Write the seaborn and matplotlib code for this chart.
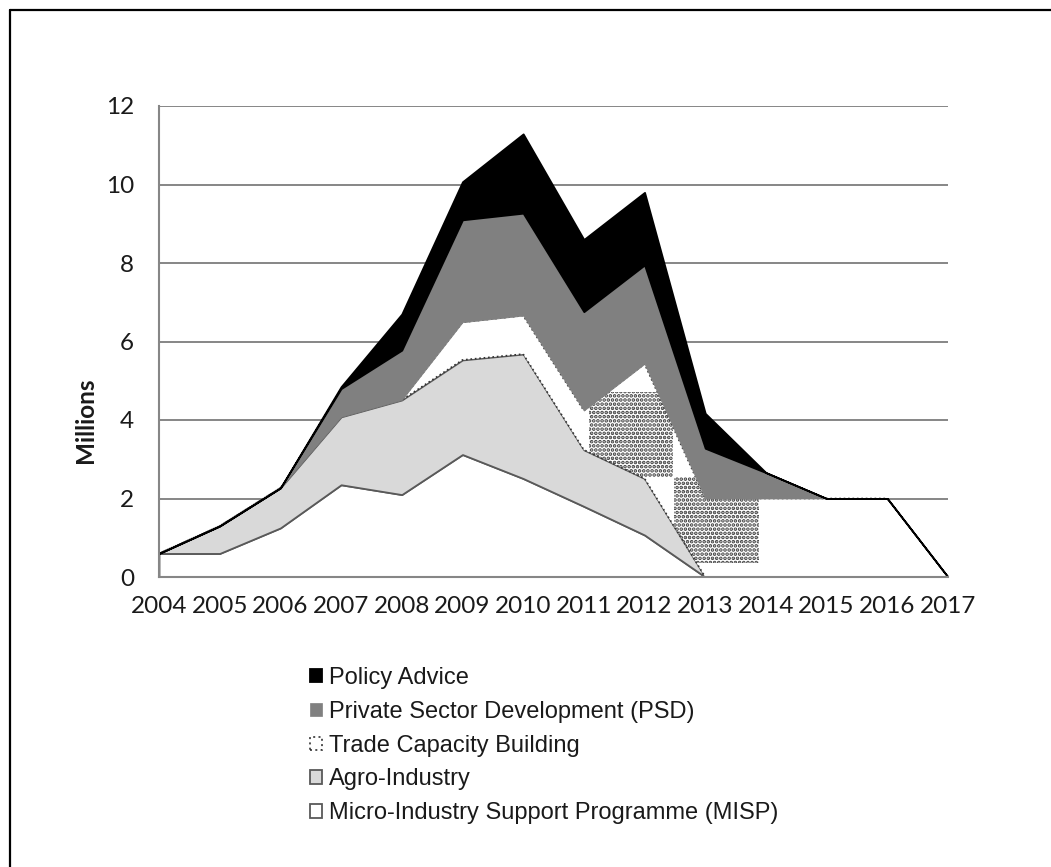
import matplotlib
matplotlib.use("Agg")
import matplotlib.pyplot as plt
import matplotlib.patches as mpatches
from matplotlib.lines import Line2D
import seaborn as sns
import numpy as np

# -----------------------------
# DATA (millions)
# -----------------------------
years = list(range(2004, 2018))

misp = [0.6, 0.6, 1.25, 2.35, 2.1, 3.12, 2.51, 1.8, 1.07, 0, 0, 0, 0, 0]
agro = [0, 0.7, 1.02, 1.73, 2.41, 2.41, 3.17, 1.44, 1.44, 0, 0, 0, 0, 0]
trade = [0, 0, 0, 0, 0, 0.96, 0.98, 1.0, 2.92, 2.0, 2.0, 2.0, 2.0, 0]
psd = [0, 0, 0, 0.72, 1.27, 2.61, 2.61, 2.52, 2.52, 1.28, 0.66, 0, 0, 0]
policy = [0, 0, 0, 0.05, 0.92, 0.97, 2.02, 1.84, 1.85, 0.89, 0, 0, 0, 0]

labels = [
    "Micro-Industry Support Programme (MISP)",
    "Agro-Industry",
    "Trade Capacity Building",
    "Private Sector Development (PSD)",
    "Policy Advice",
]

# stippled patches of the trade layer that survived in the source image
# (x0, x1, y0, y1) in data units
stipple_boxes = [(2011.08, 2012.47, 2.56, 4.72), (2012.49, 2013.89, 0.36, 2.56)]

# -----------------------------
# THEME
# -----------------------------
sns.set_theme(style="white")
plt.rcParams["font.family"] = ["Lato", "DejaVu Sans"]
plt.rcParams["hatch.linewidth"] = 1.8

fig = plt.figure(figsize=(10.51, 8.67), dpi=100)
ax = fig.add_axes([159 / 1051, 1 - 577 / 867, (948 - 159) / 1051, (577 - 106) / 867])

grid_col = "#868686"
edge_col = "#595959"

layers = ax.stackplot(
    years, misp, agro, trade, psd, policy,
    labels=labels,
    colors=["white", "#d9d9d9", "white", "#808080", "black"],
)

styles = [
    dict(edgecolor=edge_col, linewidth=1.3, linestyle="-"),
    dict(edgecolor=edge_col, linewidth=1.3, linestyle="-"),
    dict(edgecolor="#333333", linewidth=1.2, linestyle=":"),
    dict(edgecolor="#808080", linewidth=0.5, linestyle="-"),
    dict(edgecolor="black", linewidth=1.3, linestyle="-"),
]
for i, (coll, st) in enumerate(zip(layers, styles)):
    coll.set_edgecolor(st["edgecolor"])
    coll.set_linewidth(st["linewidth"])
    coll.set_linestyle(st["linestyle"])
    coll.set_zorder(2 + i * 0.2)

# stipple on the trade band, only inside the boxes
base = np.array(misp) + np.array(agro)
top = base + np.array(trade)
for x0, x1, y0, y1 in stipple_boxes:
    dots = ax.fill_between(years, base, top, facecolor="none",
                           edgecolor="#3a3a3a", hatch="....", linewidth=0,
                           zorder=2.5)
    box = mpatches.Rectangle((x0, y0), x1 - x0, y1 - y0, transform=ax.transData)
    dots.set_clip_path(box)

# -----------------------------
# AXES
# -----------------------------
ax.set_xlim(2004, 2017)
ax.set_ylim(0, 12)
ax.set_yticks(range(0, 13, 2))
ax.set_xticks(years)
ax.set_axisbelow(True)
ax.yaxis.grid(True, color=grid_col, linewidth=1.4)
ax.xaxis.grid(False)

for side in ["top", "right"]:
    ax.spines[side].set_visible(False)
for side in ["left", "bottom"]:
    ax.spines[side].set_color(grid_col)
    ax.spines[side].set_linewidth(1.5)
    ax.spines[side].set_zorder(3)

ax.tick_params(axis="both", which="major", direction="out", length=6,
               width=1.3, color=grid_col, labelsize=17.5, labelcolor="#1a1a1a")
ax.tick_params(axis="y", pad=12)
ax.tick_params(axis="x", pad=8)

ax.set_ylabel("Millions", fontsize=17.5, fontweight="bold", color="#1a1a1a")
ax.yaxis.set_label_coords(-0.078, 0.333)

# -----------------------------
# LEGEND
# -----------------------------
handles, lbls = ax.get_legend_handles_labels()
leg = fig.legend(
    handles[::-1], lbls[::-1],
    loc="upper left", bbox_to_anchor=(310 / 1051, 1 - 667 / 867),
    bbox_transform=fig.transFigure,
    frameon=False, borderpad=0, borderaxespad=0,
    handlelength=0.5, handleheight=0.5, handletextpad=0.3,
    labelspacing=0.5,
    prop={"family": ["Liberation Sans", "DejaVu Sans"], "size": 17},
)
for t in leg.get_texts():
    t.set_color("#1a1a1a")

# outer frame (top and left edges visible in the source)
fig.add_artist(Line2D([10 / 1051, 1], [1 - 10 / 867, 1 - 10 / 867],
                      transform=fig.transFigure, color="black", linewidth=1.6))
fig.add_artist(Line2D([10 / 1051, 10 / 1051], [0, 1 - 10 / 867],
                      transform=fig.transFigure, color="black", linewidth=1.6))

fig.savefig("out.png", dpi=100, facecolor="white")
plt.close(fig)
